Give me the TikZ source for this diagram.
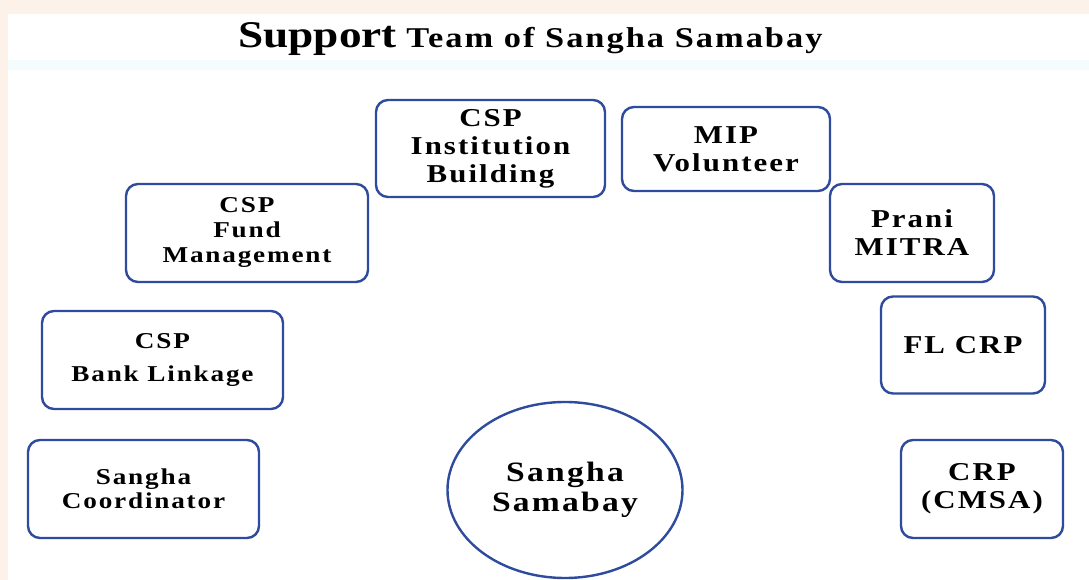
\documentclass[tikz,border=0pt]{standalone}
\usepackage{fontspec}
\setmainfont{Liberation Serif}
\newfontfamily\teamfont[FakeStretch=1.2,LetterSpace=8]{Liberation Serif}
\newfontfamily\titlefont[FakeStretch=1.2]{Liberation Serif}
\newfontfamily\titlerest[FakeStretch=1.2,LetterSpace=7]{Liberation Serif}
\usetikzlibrary{shapes.geometric}
\definecolor{boxblue}{HTML}{2E4B9E}
\definecolor{peach}{HTML}{FDF2EA}
\definecolor{bandcol}{HTML}{F5FCFE}

\begin{document}
\begin{tikzpicture}[x=0.75pt,y=-0.75pt]

\tikzset{member/.style = {shape=rectangle,draw=boxblue,line width=1.8pt,rounded corners=9pt,inner sep=0pt,align=center}}
\tikzset{lefttext/.style = {font=\teamfont\bfseries\fontsize{17}{18}\selectfont}}
\tikzset{righttext/.style = {font=\teamfont\bfseries\fontsize{19.3}{21}\selectfont}}
%background
\fill[peach] (0,0) rectangle (1089,580);
\fill[white] (8,14) rectangle (1089,580);
\fill[bandcol] (8,60) rectangle (1089,70);
%title
\node[anchor=base, inner sep=0pt] (title) at (530.5,48) {\bfseries{\titlefont\fontsize{28.3}{30}\selectfont Support}\hspace{7pt}{\titlerest\fontsize{21.5}{23}\selectfont Team of Sangha Samabay}};
%team
\node[member, lefttext, minimum width=173.25pt, minimum height=73.5pt] (coord) at (143.5,489) {Sangha\\Coordinator};
\node[member, lefttext, minimum width=180.75pt, minimum height=73.5pt] (bank) at (162.5,360) {CSP\\[6.75pt]Bank Linkage};
\node[member, lefttext, minimum width=181.5pt, minimum height=73.5pt] (fund) at (247,233) {CSP\\[0.75pt]Fund\\[0.75pt]Management};
\node[member, righttext, minimum width=171.75pt, minimum height=72.75pt] (inst) at (490.5,148.5) {CSP\\Institution\\Building};
\node[member, righttext, minimum width=156pt, minimum height=63pt] (mip) at (726,149) {MIP\\Volunteer};
\node[member, righttext, minimum width=123pt, minimum height=73.5pt] (prani) at (912,233) {Prani\\MITRA};
\node[member, righttext, minimum width=123pt, minimum height=72.75pt] (flcrp) at (963,345) {FL CRP};
\node[member, righttext, minimum width=121.5pt, minimum height=73.5pt] (crp) at (982,489) {CRP\\(CMSA)};
%centre
\node[shape=ellipse, draw=boxblue, line width=1.8pt, inner sep=0pt, align=center, minimum width=176.25pt, minimum height=132pt, font=\teamfont\bfseries\fontsize{21}{22.5}\selectfont] (samabay) at (565,490) {Sangha\\Samabay};

\end{tikzpicture}
\end{document}
